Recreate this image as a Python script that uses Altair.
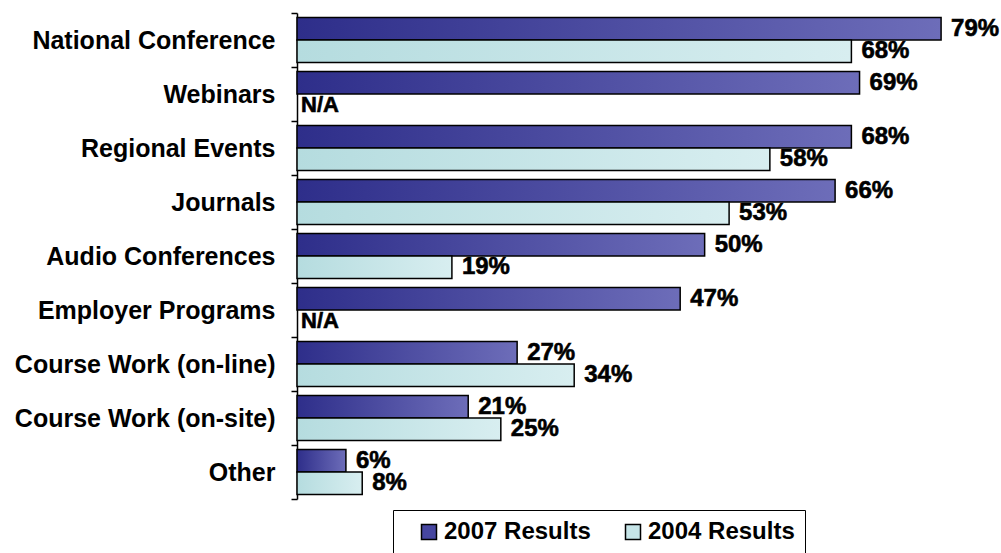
import altair as alt
import pandas as pd

# Survey categories and share of respondents (%) per survey year
categories = [
    "National Conference",
    "Webinars",
    "Regional Events",
    "Journals",
    "Audio Conferences",
    "Employer Programs",
    "Course Work (on-line)",
    "Course Work (on-site)",
    "Other",
]
results_2007 = [79, 69, 68, 66, 50, 47, 27, 21, 6]
results_2004 = [68, None, 58, 53, 19, None, 34, 25, 8]
series_names = ["2007 Results", "2004 Results"]

rows = []
for cat, v07, v04 in zip(categories, results_2007, results_2004):
    rows.append({"category": cat, "series": series_names[0], "value": v07})
    rows.append({"category": cat, "series": series_names[1], "value": v04})
df = pd.DataFrame(rows)
df["label"] = df["value"].apply(lambda v: "N/A" if pd.isna(v) else f"{int(v)}%")
df["pos"] = df["value"].fillna(0)

FONT = "Liberation Sans"

grad_2007 = alt.LinearGradient(
    gradient="linear", x1=0, x2=1, y1=0, y2=0,
    stops=[alt.GradientStop(color="#2e2e8a", offset=0),
           alt.GradientStop(color="#6d6db9", offset=1)],
)
grad_2004 = alt.LinearGradient(
    gradient="linear", x1=0, x2=1, y1=0, y2=0,
    stops=[alt.GradientStop(color="#b5dcdf", offset=0),
           alt.GradientStop(color="#d8eef0", offset=1)],
)

y_enc = alt.Y(
    "category:N",
    sort=categories,
    scale=alt.Scale(domain=categories, paddingInner=0, paddingOuter=0),
    axis=alt.Axis(
        title=None,
        tickBand="extent",
        tickSize=6,
        tickColor="black",
        tickWidth=1.5,
        domainColor="black",
        domainWidth=1.5,
        labelFont=FONT,
        labelFontSize=25,
        labelFontWeight="bold",
        labelColor="black",
        labelPadding=16,
        labelLimit=400,
    ),
)
yoff_enc = alt.YOffset(
    "series:N",
    scale=alt.Scale(domain=series_names, paddingOuter=0.2, paddingInner=0),
)
x_enc = alt.X("pos:Q", scale=alt.Scale(domain=[0, 85]), axis=None)

base = alt.Chart(df).encode(y=y_enc, yOffset=yoff_enc, x=x_enc)

bars_2007 = base.transform_filter(
    alt.datum.series == series_names[0]
).mark_bar(color=grad_2007, stroke="black", strokeWidth=1.5)

bars_2004 = base.transform_filter(
    (alt.datum.series == series_names[1]) & (alt.datum.value != None)
).mark_bar(color=grad_2004, stroke="black", strokeWidth=1.5)

value_labels = base.transform_filter(
    alt.datum.value != None
).mark_text(
    align="left", baseline="middle", dx=10,
    font=FONT, fontSize=24, fontWeight="bold", color="black",
    stroke="black", strokeWidth=0.6,
).encode(text="label:N")

na_labels = base.transform_filter(
    alt.datum.value == None
).mark_text(
    align="left", baseline="middle", dx=4,
    font=FONT, fontSize=22, fontWeight="bold", color="black",
    stroke="black", strokeWidth=0.6,
).encode(text="label:N")

# Invisible layer that carries the series legend
legend_layer = base.mark_square(opacity=0).encode(
    color=alt.Color(
        "series:N",
        scale=alt.Scale(domain=series_names, range=["#4646a0", "#c6e5e8"]),
        legend=alt.Legend(
            title=None,
            orient="none",
            legendX=96,
            legendY=497,
            direction="horizontal",
            symbolType="square",
            symbolSize=225,
            symbolStrokeColor="black",
            symbolStrokeWidth=1.5,
            symbolOpacity=1,
            symbolOffset=14,
            labelFont=FONT,
            labelFontSize=24,
            labelFontWeight="bold",
            labelColor="black",
            labelOffset=3,
            columnPadding=16,
            padding=10,
            strokeColor="black",
            fillColor="white",
        ),
    )
)

chart = alt.layer(
    bars_2007, bars_2004, value_labels, na_labels, legend_layer
).properties(
    width=693,
    height=486,
    autosize=alt.AutoSizeParams(type="none"),
    padding={"left": 297, "top": 13, "right": 11, "bottom": 54},
    background="white",
).configure_view(stroke=None)

chart.save("out.html", embed_options={"renderer": "svg", "actions": False})
